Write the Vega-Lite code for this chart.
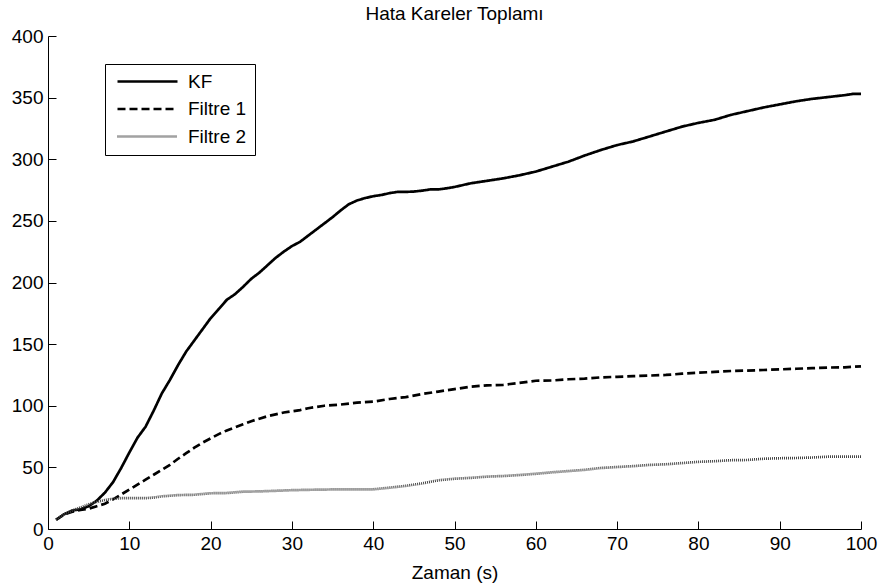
{
  "$schema": "https://vega.github.io/schema/vega-lite/v6.json",
  "width": 813,
  "height": 493,
  "autosize": "none",
  "padding": {"left": 48, "top": 36, "right": 19, "bottom": 59},
  "background": "white",
  "config": {
    "view": {"stroke": null},
    "font": "Liberation Sans",
    "axis": {
      "grid": false,
      "domainColor": "black",
      "tickColor": "black",
      "labelColor": "black",
      "titleColor": "black",
      "labelFont": "Liberation Sans",
      "titleFont": "Liberation Sans",
      "labelFontSize": 19,
      "titleFontSize": 19,
      "titleFontWeight": "normal",
      "tickSize": -8,
      "tickWidth": 1,
      "domainWidth": 1
    },
    "legend": {
      "strokeColor": "black",
      "fillColor": "white",
      "labelFont": "Liberation Sans",
      "labelFontSize": 19,
      "labelColor": "black"
    }
  },
  "title": {
    "text": "Hata Kareler Toplamı",
    "fontSize": 19,
    "fontWeight": "normal",
    "font": "Liberation Sans",
    "color": "black",
    "anchor": "middle",
    "frame": "group",
    "baseline": "alphabetic",
    "offset": 6,
    "dy": 18
  },
  "data": {
    "values": [
      {"t":1,"s":"KF","v":7.5},{"t":2,"s":"KF","v":12},{"t":3,"s":"KF","v":15},{"t":4,"s":"KF","v":16},{"t":5,"s":"KF","v":18.5},
      {"t":6,"s":"KF","v":23},{"t":7,"s":"KF","v":29.5},{"t":8,"s":"KF","v":38},{"t":9,"s":"KF","v":49.5},{"t":10,"s":"KF","v":62},
      {"t":11,"s":"KF","v":74},{"t":12,"s":"KF","v":83},{"t":13,"s":"KF","v":96},{"t":14,"s":"KF","v":110},{"t":15,"s":"KF","v":121},
      {"t":16,"s":"KF","v":133},{"t":17,"s":"KF","v":144},{"t":18,"s":"KF","v":153},{"t":19,"s":"KF","v":162},{"t":20,"s":"KF","v":171},
      {"t":21,"s":"KF","v":178.5},{"t":22,"s":"KF","v":186},{"t":23,"s":"KF","v":190.5},{"t":24,"s":"KF","v":196.5},{"t":25,"s":"KF","v":203},
      {"t":26,"s":"KF","v":208},{"t":27,"s":"KF","v":214},{"t":28,"s":"KF","v":220},{"t":29,"s":"KF","v":225},{"t":30,"s":"KF","v":229.5},
      {"t":31,"s":"KF","v":233},{"t":32,"s":"KF","v":238},{"t":33,"s":"KF","v":243},{"t":34,"s":"KF","v":248},{"t":35,"s":"KF","v":253},
      {"t":36,"s":"KF","v":258.5},{"t":37,"s":"KF","v":263.5},{"t":38,"s":"KF","v":266.5},{"t":39,"s":"KF","v":268.5},{"t":40,"s":"KF","v":270},
      {"t":41,"s":"KF","v":271},{"t":42,"s":"KF","v":272.5},{"t":43,"s":"KF","v":273.5},{"t":44,"s":"KF","v":273.5},{"t":45,"s":"KF","v":273.8},
      {"t":46,"s":"KF","v":274.5},{"t":47,"s":"KF","v":275.5},{"t":48,"s":"KF","v":275.5},{"t":49,"s":"KF","v":276.4},{"t":50,"s":"KF","v":277.5},
      {"t":52,"s":"KF","v":280.5},{"t":54,"s":"KF","v":282.5},{"t":56,"s":"KF","v":284.5},{"t":58,"s":"KF","v":287},{"t":60,"s":"KF","v":290},
      {"t":62,"s":"KF","v":294},{"t":64,"s":"KF","v":298},{"t":66,"s":"KF","v":303},{"t":68,"s":"KF","v":307.5},{"t":70,"s":"KF","v":311.5},
      {"t":72,"s":"KF","v":314.5},{"t":74,"s":"KF","v":318.5},{"t":76,"s":"KF","v":322.5},{"t":78,"s":"KF","v":326.5},{"t":80,"s":"KF","v":329.5},
      {"t":82,"s":"KF","v":332},{"t":84,"s":"KF","v":336},{"t":86,"s":"KF","v":339},{"t":88,"s":"KF","v":342},{"t":90,"s":"KF","v":344.5},
      {"t":92,"s":"KF","v":347},{"t":94,"s":"KF","v":349},{"t":96,"s":"KF","v":350.5},{"t":98,"s":"KF","v":352},{"t":99,"s":"KF","v":353},{"t":100,"s":"KF","v":353},

      {"t":1,"s":"Filtre 1","v":7.5},{"t":2,"s":"Filtre 1","v":12},{"t":3,"s":"Filtre 1","v":14},{"t":4,"s":"Filtre 1","v":15.5},{"t":5,"s":"Filtre 1","v":16.5},
      {"t":6,"s":"Filtre 1","v":18.5},{"t":7,"s":"Filtre 1","v":20.5},{"t":8,"s":"Filtre 1","v":24},{"t":9,"s":"Filtre 1","v":28},{"t":10,"s":"Filtre 1","v":32},
      {"t":11,"s":"Filtre 1","v":36},{"t":12,"s":"Filtre 1","v":40},{"t":13,"s":"Filtre 1","v":44},{"t":14,"s":"Filtre 1","v":48},{"t":15,"s":"Filtre 1","v":52},
      {"t":16,"s":"Filtre 1","v":57},{"t":17,"s":"Filtre 1","v":61.5},{"t":18,"s":"Filtre 1","v":66},{"t":19,"s":"Filtre 1","v":70},{"t":20,"s":"Filtre 1","v":73.5},
      {"t":21,"s":"Filtre 1","v":77},{"t":22,"s":"Filtre 1","v":80},{"t":23,"s":"Filtre 1","v":82.5},{"t":24,"s":"Filtre 1","v":85},{"t":25,"s":"Filtre 1","v":87.5},
      {"t":26,"s":"Filtre 1","v":89.5},{"t":27,"s":"Filtre 1","v":91.5},{"t":28,"s":"Filtre 1","v":93},{"t":29,"s":"Filtre 1","v":94.5},{"t":30,"s":"Filtre 1","v":95.5},
      {"t":31,"s":"Filtre 1","v":96.5},{"t":32,"s":"Filtre 1","v":98},{"t":33,"s":"Filtre 1","v":99},{"t":34,"s":"Filtre 1","v":100},{"t":35,"s":"Filtre 1","v":100.5},
      {"t":36,"s":"Filtre 1","v":101},{"t":38,"s":"Filtre 1","v":102.5},{"t":40,"s":"Filtre 1","v":103.3},{"t":42,"s":"Filtre 1","v":105.5},{"t":44,"s":"Filtre 1","v":107},
      {"t":46,"s":"Filtre 1","v":109.5},{"t":48,"s":"Filtre 1","v":111.5},{"t":50,"s":"Filtre 1","v":113.5},{"t":52,"s":"Filtre 1","v":115.5},{"t":54,"s":"Filtre 1","v":116.5},
      {"t":56,"s":"Filtre 1","v":117},{"t":58,"s":"Filtre 1","v":118.5},{"t":60,"s":"Filtre 1","v":120.3},{"t":62,"s":"Filtre 1","v":120.5},{"t":64,"s":"Filtre 1","v":121.5},
      {"t":66,"s":"Filtre 1","v":122},{"t":68,"s":"Filtre 1","v":123},{"t":70,"s":"Filtre 1","v":123.5},{"t":72,"s":"Filtre 1","v":124},{"t":74,"s":"Filtre 1","v":124.5},
      {"t":76,"s":"Filtre 1","v":125},{"t":78,"s":"Filtre 1","v":126},{"t":80,"s":"Filtre 1","v":126.8},{"t":82,"s":"Filtre 1","v":127.5},{"t":84,"s":"Filtre 1","v":128.2},
      {"t":86,"s":"Filtre 1","v":128.5},{"t":88,"s":"Filtre 1","v":129},{"t":90,"s":"Filtre 1","v":129.5},{"t":92,"s":"Filtre 1","v":130},{"t":94,"s":"Filtre 1","v":130.5},
      {"t":96,"s":"Filtre 1","v":131},{"t":98,"s":"Filtre 1","v":131.2},{"t":100,"s":"Filtre 1","v":132},

      {"t":1,"s":"Filtre 2","v":7.5},{"t":2,"s":"Filtre 2","v":12},{"t":3,"s":"Filtre 2","v":15},{"t":4,"s":"Filtre 2","v":17.5},{"t":5,"s":"Filtre 2","v":20},
      {"t":6,"s":"Filtre 2","v":22},{"t":7,"s":"Filtre 2","v":23.5},{"t":8,"s":"Filtre 2","v":24.5},{"t":9,"s":"Filtre 2","v":25},{"t":10,"s":"Filtre 2","v":25},
      {"t":12,"s":"Filtre 2","v":25},{"t":13,"s":"Filtre 2","v":25.5},{"t":14,"s":"Filtre 2","v":26.5},{"t":16,"s":"Filtre 2","v":27.5},{"t":18,"s":"Filtre 2","v":27.8},
      {"t":20,"s":"Filtre 2","v":29},{"t":22,"s":"Filtre 2","v":29.2},{"t":24,"s":"Filtre 2","v":30.3},{"t":26,"s":"Filtre 2","v":30.5},{"t":28,"s":"Filtre 2","v":31},
      {"t":30,"s":"Filtre 2","v":31.5},{"t":32,"s":"Filtre 2","v":31.8},{"t":34,"s":"Filtre 2","v":32},{"t":36,"s":"Filtre 2","v":32.2},{"t":38,"s":"Filtre 2","v":32.2},
      {"t":40,"s":"Filtre 2","v":32.2},{"t":42,"s":"Filtre 2","v":33.5},{"t":44,"s":"Filtre 2","v":35},{"t":46,"s":"Filtre 2","v":37},{"t":48,"s":"Filtre 2","v":39.5},
      {"t":50,"s":"Filtre 2","v":40.8},{"t":52,"s":"Filtre 2","v":41.5},{"t":54,"s":"Filtre 2","v":42.5},{"t":56,"s":"Filtre 2","v":43},{"t":58,"s":"Filtre 2","v":43.8},
      {"t":60,"s":"Filtre 2","v":44.8},{"t":62,"s":"Filtre 2","v":46},{"t":64,"s":"Filtre 2","v":47},{"t":66,"s":"Filtre 2","v":48},{"t":68,"s":"Filtre 2","v":49.5},
      {"t":70,"s":"Filtre 2","v":50.3},{"t":72,"s":"Filtre 2","v":51},{"t":74,"s":"Filtre 2","v":52},{"t":76,"s":"Filtre 2","v":52.5},{"t":78,"s":"Filtre 2","v":53.5},
      {"t":80,"s":"Filtre 2","v":54.5},{"t":82,"s":"Filtre 2","v":55},{"t":84,"s":"Filtre 2","v":55.8},{"t":86,"s":"Filtre 2","v":56},{"t":88,"s":"Filtre 2","v":57},
      {"t":90,"s":"Filtre 2","v":57.4},{"t":92,"s":"Filtre 2","v":57.6},{"t":94,"s":"Filtre 2","v":58},{"t":96,"s":"Filtre 2","v":58.7},{"t":98,"s":"Filtre 2","v":58.7},{"t":100,"s":"Filtre 2","v":58.7}
    ]
  },
  "mark": {"type": "line", "interpolate": "linear"},
  "encoding": {
    "x": {
      "field": "t", "type": "quantitative",
      "scale": {"domain": [0, 100], "nice": false, "zero": false},
      "axis": {"values": [0,10,20,30,40,50,60,70,80,90,100], "title": "Zaman (s)", "labelPadding": 13, "titlePadding": 10, "labelFlush": false}
    },
    "y": {
      "field": "v", "type": "quantitative",
      "scale": {"domain": [0, 400], "nice": false},
      "axis": {"values": [0,50,100,150,200,250,300,350,400], "title": null, "labelPadding": 13}
    },
    "color": {
      "field": "s", "type": "nominal",
      "scale": {"domain": ["KF", "Filtre 1", "Filtre 2"], "range": ["#000000", "#000000", "#444444"]},
      "legend": {
        "title": null,
        "orient": "none",
        "legendX": 57,
        "legendY": 28,
        "padding": 8,
        "symbolType": "M-6,0H6",
        "symbolSize": 100,
        "symbolOffset": 25,
        "labelOffset": 31,
        "rowPadding": 7.5,
        "labelBaseline": "middle"
      }
    },
    "strokeDash": {
      "field": "s", "type": "nominal",
      "scale": {"domain": ["KF", "Filtre 1", "Filtre 2"], "range": [[1, 0], [8, 4], [1, 1]]},
      "legend": null
    },
    "strokeWidth": {
      "field": "s", "type": "nominal",
      "scale": {"domain": ["KF", "Filtre 1", "Filtre 2"], "range": [2.7, 2.7, 0.8]},
      "legend": null
    }
  }
}
